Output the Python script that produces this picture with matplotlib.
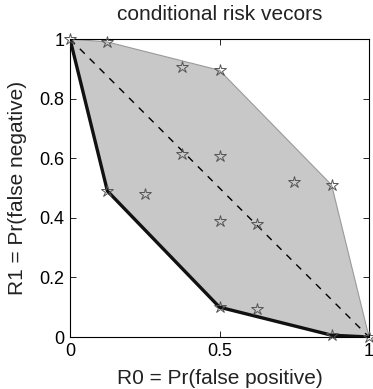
import matplotlib
matplotlib.use("Agg")
import matplotlib.pyplot as plt
import numpy as np

plt.rcParams['font.family'] = ['Liberation Sans', 'DejaVu Sans']

# conditional risk vectors (R0, R1)
r0 = [0.0, 0.125, 0.375, 0.5, 0.125, 0.25, 0.375, 0.5, 0.75, 0.875, 0.5, 0.625, 0.5, 0.625, 0.875, 1.0]
r1 = [1.0, 0.99, 0.905, 0.895, 0.49, 0.48, 0.615, 0.607, 0.52, 0.51, 0.39, 0.38, 0.10, 0.093, 0.006, 0.0]

# convex hull vertices (indices into points)
hull_idx = [0, 1, 3, 9, 15, 14, 12, 4]
# lower boundary (efficient frontier)
lower_idx = [0, 4, 12, 14, 15]

fig = plt.figure(figsize=(3.73, 3.89), dpi=100)
ax = fig.add_axes([70/373, 1-337/389, 299/373, 298/389])

hx = [r0[i] for i in hull_idx]
hy = [r1[i] for i in hull_idx]
ax.fill(hx, hy, facecolor='#c8c8c8', edgecolor='#9a9a9a', linewidth=0.8, zorder=1)

ax.plot([0, 1], [1, 0], linestyle=(0, (5, 5)), color='black', linewidth=1.0, zorder=2)

lx = [r0[i] for i in lower_idx]
ly = [r1[i] for i in lower_idx]
ax.plot(lx, ly, color='#111111', linewidth=2.4, zorder=3)

ax.plot(r0, r1, linestyle='none', marker='*', markersize=9, markerfacecolor='none',
        markeredgecolor='#555555', markeredgewidth=0.7, zorder=4, clip_on=False)

ax.set_xlim(0, 1)
ax.set_ylim(0, 1)
ax.set_xticks([0, 0.5, 1])
ax.set_xticklabels(['0', '0.5', '1'])
ax.set_yticks([0, 0.2, 0.4, 0.6, 0.8, 1])
ax.set_yticklabels(['0', '0.2', '0.4', '0.6', '0.8', '1'])
ax.tick_params(direction='in', top=True, right=True, labelsize=13, length=4, width=0.6, pad=4)
for s in ax.spines.values():
    s.set_linewidth(0.8)

fig.text(219.5/373, 1-14/389, 'conditional risk vecors', fontsize=15, ha='center', va='center', color='#222222')
ax.set_xlabel('R0 = Pr(false positive)', fontsize=15, va='center', color='#222222')
ax.xaxis.set_label_coords(0.5, (337-378)/298)
ax.set_ylabel('R1 = Pr(false negative)', fontsize=15, va='center', color='#222222')
ax.yaxis.set_label_coords((18-70)/299, 0.5)

fig.savefig('out.png', dpi=100)
